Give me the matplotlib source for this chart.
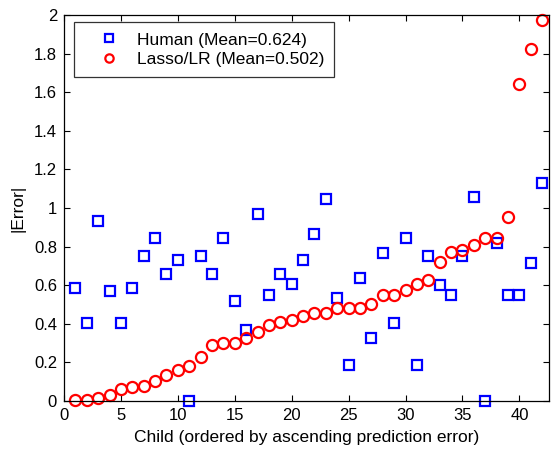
import matplotlib
matplotlib.use("Agg")
import matplotlib.pyplot as plt
from matplotlib.ticker import FuncFormatter

plt.rcParams['font.family'] = ['Liberation Sans', 'DejaVu Sans']

child = list(range(1, 43))
human = [0.586, 0.404, 0.932, 0.569, 0.404, 0.586, 0.751, 0.844, 0.657, 0.733,
         0.0, 0.751, 0.657, 0.844, 0.517, 0.37, 0.967, 0.551, 0.657, 0.605,
         0.733, 0.863, 1.045, 0.534, 0.187, 0.639, 0.327, 0.767, 0.403, 0.845,
         0.187, 0.75, 0.603, 0.551, 0.75, 1.058, 0.0, 0.816, 0.551, 0.551,
         0.715, 1.131]
lasso = [0.003, 0.003, 0.015, 0.029, 0.063, 0.072, 0.08, 0.103, 0.136, 0.158,
         0.179, 0.229, 0.288, 0.30, 0.30, 0.328, 0.356, 0.394, 0.41, 0.422,
         0.44, 0.456, 0.456, 0.482, 0.482, 0.482, 0.50, 0.551, 0.551, 0.573,
         0.604, 0.629, 0.72, 0.772, 0.784, 0.807, 0.845, 0.845, 0.951, 1.641,
         1.823, 1.976]
labels = ['Human (Mean=0.624)', 'Lasso/LR (Mean=0.502)']
xticks = [0, 5, 10, 15, 20, 25, 30, 35, 40]
yticks = [0, 0.2, 0.4, 0.6, 0.8, 1.0, 1.2, 1.4, 1.6, 1.8, 2.0]

fig = plt.figure(figsize=(5.52, 4.49), dpi=100)
ax = fig.add_axes([0.116, 0.107, 0.9946 - 0.116, 0.9666 - 0.107])
ax.plot(child, human, linestyle='none', marker='s', markersize=7.5,
        markerfacecolor='none', markeredgecolor='#0000ff', markeredgewidth=1.6,
        label=labels[0], clip_on=False)
ax.plot(child, lasso, linestyle='none', marker='o', markersize=8,
        markerfacecolor='none', markeredgecolor='#ff0000', markeredgewidth=1.6,
        label=labels[1], clip_on=False)

ax.set_xlim(0, 42.6)
ax.set_ylim(0, 2)
ax.set_xticks(xticks)
ax.set_yticks(yticks)
ax.yaxis.set_major_formatter(FuncFormatter(lambda v, p: ('%g' % round(v, 2))))
ax.tick_params(direction='in', top=True, right=True, labelsize=12, length=4,
               width=0.8)
ax.tick_params(axis='x', pad=5)
ax.tick_params(axis='y', pad=5)
for s in ax.spines.values():
    s.set_linewidth(0.9)
ax.set_xlabel('Child (ordered by ascending prediction error)', fontsize=12.5, labelpad=5)
ax.set_ylabel('|Error|', fontsize=12.5, labelpad=6)

leg = ax.legend(loc='upper left', bbox_to_anchor=(0.0206, 0.982), fontsize=12.5,
                frameon=True, fancybox=False, edgecolor='black', borderaxespad=0,
                handletextpad=0.2, borderpad=0.6, labelspacing=0.25,
                handlelength=2.8, markerscale=0.75)
leg.get_frame().set_linewidth(0.9)

fig.savefig('out.png', dpi=100)
